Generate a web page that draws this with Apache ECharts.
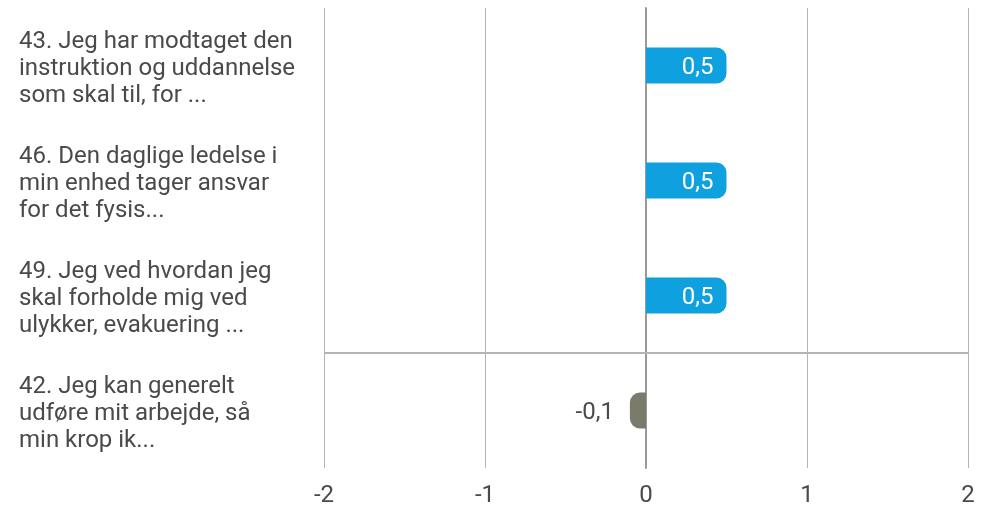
<!DOCTYPE html>
<html>
<head>
<meta charset="utf-8">
<script src="https://cdn.jsdelivr.net/npm/echarts@6/dist/echarts.min.js"></script>
<style>
  html, body { margin: 0; padding: 0; background: #fff; }
  #chart { width: 984px; height: 508px; }
</style>
</head>
<body>
<div id="chart"></div>
<script>
//  Data

var categories = [
  '43. Jeg har modtaget den\ninstruktion og uddannelse\nsom skal til, for ...',
  '46. Den daglige ledelse i\nmin enhed tager ansvar\nfor det fysis...',
  '49. Jeg ved hvordan jeg\nskal forholde mig ved\nulykker, evakuering ...',
  '42. Jeg kan generelt\nudføre mit arbejde, så\nmin krop ik...'
];
var values = [0.5, 0.5, 0.5, -0.1];
var xTicks = [-2, -1, 0, 1, 2];
// separator drawn after the third question
var separatorAfter = 3;

var blue = '#0fa0e0';
var gray = '#7b7b6b';
var textColor = '#4a4a4a';

//  Chart

var myChart = echarts.init(document.getElementById('chart'), null, {renderer: 'canvas'});

var barData = values.map(function(v) {
  if (v >= 0) {
    return {
      value: v,
      itemStyle: {color: blue, borderRadius: [0, 10, 10, 0]},
      label: {position: 'insideRight', color: '#fff', distance: 13}
    };
  }
  return {
    value: v,
    itemStyle: {color: gray, borderRadius: [10, 0, 0, 10]},
    label: {position: 'left', color: textColor, distance: 16}
  };
});

var option = {
  animation: false,
  grid: {left: 324, right: 16, top: 8, bottom: 38},
  xAxis: {
    type: 'value',
    min: xTicks[0],
    max: xTicks[xTicks.length - 1],
    interval: 1,
    axisLine: {show: false},
    axisTick: {show: false},
    axisLabel: {
      color: textColor,
      fontFamily: 'Roboto',
      fontSize: 24,
      margin: 16
    },
    splitLine: {lineStyle: {color: '#b4b4b4', width: 1}}
  },
  yAxis: [{
    type: 'category',
    inverse: true,
    data: categories,
    axisLine: {onZero: true, lineStyle: {color: '#9a9a9a', width: 2}},
    axisTick: {show: false},
    axisLabel: {
      color: textColor,
      fontFamily: 'Roboto',
      fontSize: 24,
      lineHeight: 27,
      align: 'left',
      margin: 305,
      // small empty line on top pushes the block down a little
      formatter: function(value) {
        return '{s| }\n' + value;
      },
      rich: {
        s: {lineHeight: 6, fontSize: 6}
      }
    },
    splitLine: {show: false}
  }, {
    type: 'value',
    show: false,
    inverse: true,
    min: 0,
    max: categories.length,
    splitLine: {show: false}
  }],
  series: [{
    type: 'bar',
    data: barData,
    barWidth: 36,
    label: {
      show: true,
      fontFamily: 'Roboto',
      fontSize: 24,
      offset: [0, 2],
      formatter: function(p) {
        return String(p.value).replace('.', ',');
      }
    }
  }, {
    type: 'line',
    yAxisIndex: 1,
    data: [],
    markLine: {
      silent: true,
      symbol: 'none',
      label: {show: false},
      lineStyle: {color: '#b4b4b4', width: 2, type: 'solid'},
      data: [{yAxis: separatorAfter}]
    }
  }]
};

myChart.setOption(option);
</script>
</body>
</html>
